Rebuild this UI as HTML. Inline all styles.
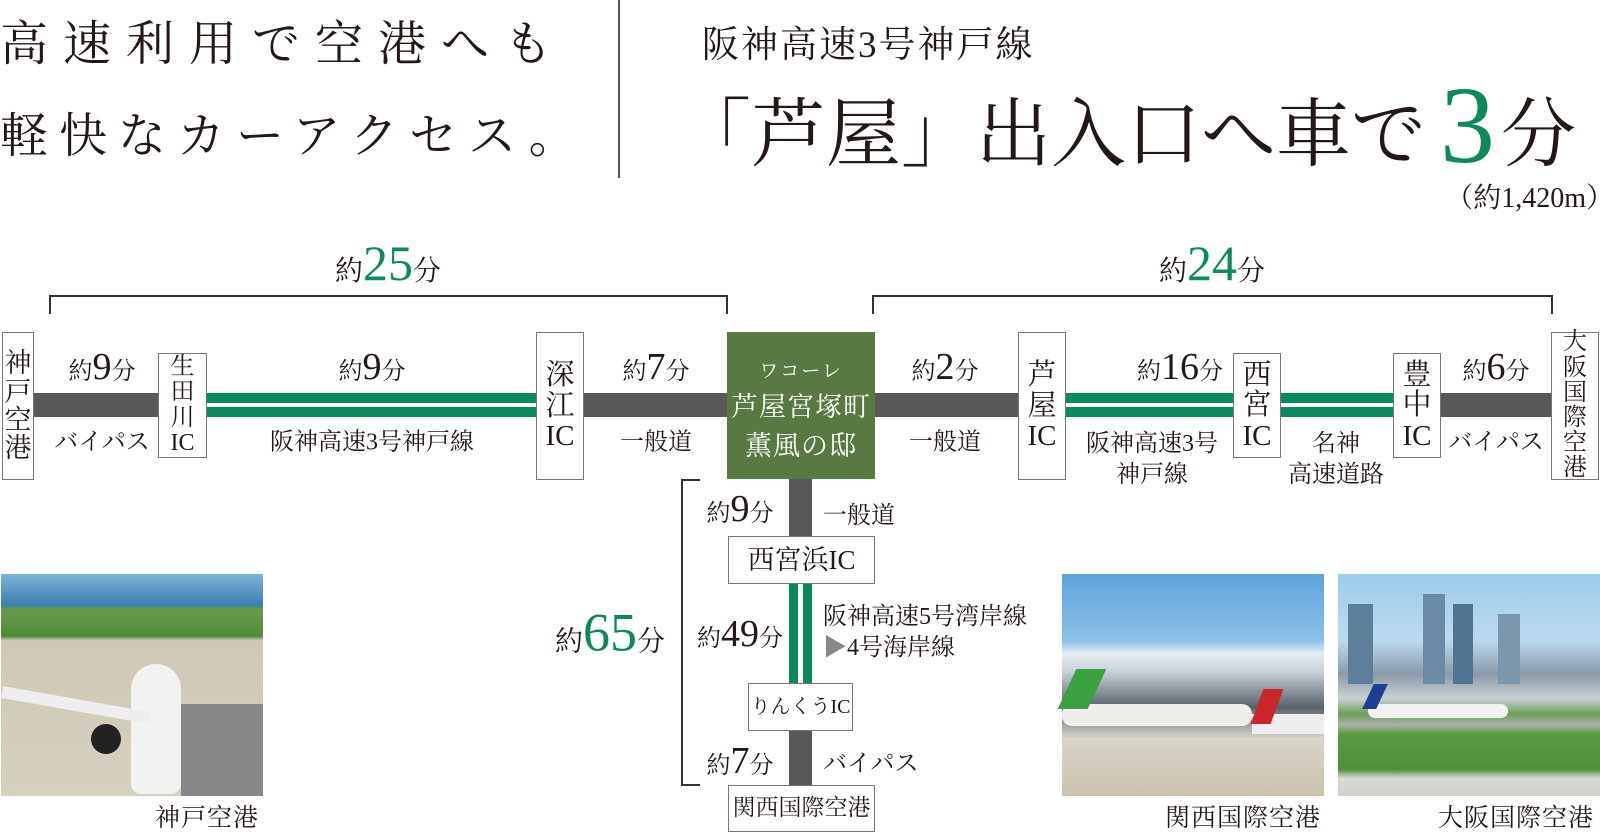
<!DOCTYPE html>
<html><head><meta charset="utf-8"><style>
*{margin:0;padding:0;box-sizing:border-box}
body{width:1600px;height:834px;background:#fff;position:relative;overflow:hidden;font-family:"Liberation Serif","Noto Serif CJK SC","Noto Sans CJK JP",serif;color:#231815}
.a{position:absolute;white-space:nowrap}
.bar{position:absolute;background:#595757}
.g{position:absolute;background:#0a8a5c}
.box{position:absolute;border:1.5px solid #777;background:#fff;display:flex;align-items:center;justify-content:center;text-align:center;font-size:27px;line-height:1.05;white-space:nowrap}
.lb{position:absolute;white-space:nowrap;transform:translate(-50%,-50%);font-size:24px;line-height:1.2;text-align:center}
.lb b{font-weight:normal;font-size:38px}
.gr{color:#0e8a5a;font-size:50px}
.ln{position:absolute;background:#333}
</style></head><body>
<div class="a" style="left:0;top:14px;font-size:48px;letter-spacing:15px;line-height:62px">高速利用で空港へも</div>
<div class="a" style="left:0;top:106px;font-size:48px;letter-spacing:11px;line-height:62px">軽快なカーアクセス。</div>
<div class="ln" style="left:618px;top:0;width:1.5px;height:178px;background:#555"></div>
<div class="a" style="left:702px;top:14px;font-size:37px;letter-spacing:2px">阪神高速3号神戸線</div>
<div class="a" style="left:676px;top:80px;font-size:75px;letter-spacing:0;line-height:90px">「芦屋」出入口へ車で<span style="color:#0e8a5a;font-size:110px;vertical-align:-2px;margin-left:14px;margin-right:6px">3</span>分</div>
<div class="a" style="right:-14px;top:176px;font-size:28px">（約1,420m）</div>

<!-- top brackets -->
<div class="ln" style="left:49px;top:295px;width:678px;height:1.5px"></div>
<div class="ln" style="left:49px;top:295px;width:1.5px;height:19px"></div>
<div class="ln" style="left:726px;top:295px;width:1.5px;height:19px"></div>
<div class="lb" style="left:388px;top:263px;font-size:28px">約<span class="gr">25</span>分</div>
<div class="ln" style="left:872px;top:295px;width:680px;height:1.5px"></div>
<div class="ln" style="left:872px;top:295px;width:1.5px;height:19px"></div>
<div class="ln" style="left:1551px;top:295px;width:1.5px;height:19px"></div>
<div class="lb" style="left:1212px;top:263px;font-size:28px">約<span class="gr">24</span>分</div>

<!-- main row bars -->
<div class="bar" style="left:30px;top:393px;width:130px;height:24px"></div>
<div class="g" style="left:205px;top:393px;width:332px;height:10px"></div>
<div class="g" style="left:205px;top:407px;width:332px;height:10px"></div>
<div class="bar" style="left:582px;top:393px;width:148px;height:24px"></div>
<div class="bar" style="left:873px;top:393px;width:148px;height:24px"></div>
<div class="g" style="left:1064px;top:393px;width:332px;height:10px"></div>
<div class="g" style="left:1064px;top:407px;width:332px;height:10px"></div>
<div class="bar" style="left:1440px;top:393px;width:113px;height:24px"></div>

<div class="box" style="left:2px;top:332px;width:32px;height:148px">神<br>戸<br>空<br>港</div>
<div class="box" style="left:158px;top:353px;width:49px;height:105px;font-size:24px">生<br>田<br>川<br>IC</div>
<div class="box" style="left:536px;top:332px;width:48px;height:148px;font-size:29px">深<br>江<br>IC</div>
<div class="box" style="left:1018px;top:332px;width:48px;height:148px;font-size:29px">芦<br>屋<br>IC</div>
<div class="box" style="left:1233px;top:353px;width:48px;height:105px;font-size:29px">西<br>宮<br>IC</div>
<div class="box" style="left:1393px;top:353px;width:48px;height:105px;font-size:29px">豊<br>中<br>IC</div>
<div class="box" style="left:1551px;top:332px;width:48px;height:148px;font-size:24px">大<br>阪<br>国<br>際<br>空<br>港</div>

<div class="a" style="left:727px;top:332px;width:148px;height:147px;background:#587a42;color:#fff;text-align:center">
<div style="font-size:19px;margin-top:24px;letter-spacing:2px">ワコーレ</div>
<div style="font-size:27px;margin-top:2px;letter-spacing:1px">芦屋宮塚町</div>
<div style="font-size:27px;margin-top:0px;letter-spacing:1px">薫風の邸</div></div>

<div class="lb" style="left:102px;top:368px">約<b>9</b>分</div>
<div class="lb" style="left:102px;top:443px">バイパス</div>
<div class="lb" style="left:372px;top:368px">約<b>9</b>分</div>
<div class="lb" style="left:372px;top:443px">阪神高速3号神戸線</div>
<div class="lb" style="left:656px;top:368px">約<b>7</b>分</div>
<div class="lb" style="left:656px;top:443px">一般道</div>
<div class="lb" style="left:945px;top:368px">約<b>2</b>分</div>
<div class="lb" style="left:945px;top:443px">一般道</div>
<div class="lb" style="left:1180px;top:368px">約<b>16</b>分</div>
<div class="lb" style="left:1152px;top:460px;line-height:31px">阪神高速3号<br>神戸線</div>
<div class="lb" style="left:1336px;top:460px;line-height:31px">名神<br>高速道路</div>
<div class="lb" style="left:1496px;top:368px">約<b>6</b>分</div>
<div class="lb" style="left:1496px;top:443px">バイパス</div>

<!-- vertical route -->
<div class="bar" style="left:789px;top:479px;width:23px;height:57px"></div>
<div class="box" style="left:728px;top:536px;width:147px;height:48px;font-size:27px">西宮浜IC</div>
<div class="g" style="left:789px;top:584px;width:9px;height:99px"></div>
<div class="g" style="left:803px;top:584px;width:9px;height:99px"></div>
<div class="box" style="left:748px;top:683px;width:105px;height:48px;font-size:20px">りんくうIC</div>
<div class="bar" style="left:789px;top:731px;width:23px;height:54px"></div>
<div class="box" style="left:728px;top:785px;width:147px;height:47px;font-size:23px">関西国際空港</div>

<div class="ln" style="left:681px;top:479px;width:1.5px;height:306px"></div>
<div class="ln" style="left:681px;top:479px;width:19px;height:1.5px"></div>
<div class="ln" style="left:681px;top:784px;width:19px;height:1.5px"></div>
<div class="lb" style="left:610px;top:633px;font-size:28px">約<span class="gr" style="font-size:54px">65</span>分</div>

<div class="lb" style="left:740px;top:510px">約<b>9</b>分</div>
<div class="a" style="left:823px;top:495px;font-size:24px">一般道</div>
<div class="lb" style="left:740px;top:635px">約<b>49</b>分</div>
<div class="a" style="left:823px;top:602px;font-size:24px;line-height:31px">阪神高速5号湾岸線<br><span style="color:#888">▶</span>4号海岸線</div>
<div class="lb" style="left:740px;top:762px">約<b>7</b>分</div>
<div class="a" style="left:823px;top:743px;font-size:24px">バイパス</div>

<!-- photos -->
<div class="a" style="left:1px;top:574px;width:262px;height:222px;background:linear-gradient(#7fb3d9 0,#3b7fae 14%,#6b9a4a 16%,#4e8c3a 28%,#cfc8b6 30%,#d6d0c0 100%)">
<div style="position:absolute;left:130px;top:90px;width:50px;height:130px;background:#f2f2f0;border-radius:25px 25px 10px 10px"></div>
<div style="position:absolute;left:0;top:125px;width:150px;height:12px;background:#eee;transform:rotate(10deg)"></div>
<div style="position:absolute;left:90px;top:150px;width:30px;height:30px;background:#222;border-radius:50%"></div>
<div style="position:absolute;left:180px;top:130px;width:82px;height:92px;background:#888"></div></div>
<div class="a" style="left:155px;top:798px;font-size:25px;letter-spacing:1px">神戸空港</div>

<div class="a" style="left:1062px;top:574px;width:262px;height:222px;background:linear-gradient(#5fa3dc 0,#8cc0e8 30%,#e6eef4 36%,#c8d0d8 44%,#59636b 60%,#d8d4c8 74%,#cbc3ae 100%)">
<div style="position:absolute;left:0;top:130px;width:190px;height:22px;background:#f0eeea;border-radius:10px"></div>
<div style="position:absolute;left:190px;top:140px;width:72px;height:20px;background:#eee"></div>
<div style="position:absolute;left:195px;top:115px;width:20px;height:35px;background:#c8262a;transform:skewX(-20deg)"></div>
<div style="position:absolute;left:5px;top:95px;width:30px;height:40px;background:#3ba040;transform:skewX(-25deg)"></div></div>
<div class="a" style="left:1165px;top:798px;font-size:25px;letter-spacing:1px">関西国際空港</div>

<div class="a" style="left:1338px;top:574px;width:262px;height:222px;background:linear-gradient(#9cccec 0,#bcdaee 30%,#8a9aa8 45%,#c9d1d5 56%,#6e9e5a 63%,#aab0a8 68%,#5d9b42 72%,#4f8e3c 88%,#d9d9d6 92%,#cfcfcc 100%)">
<div style="position:absolute;left:10px;top:30px;width:25px;height:80px;background:#5d7f9a"></div>
<div style="position:absolute;left:85px;top:20px;width:22px;height:90px;background:#6a8aa5"></div>
<div style="position:absolute;left:115px;top:30px;width:20px;height:80px;background:#4f7590"></div>
<div style="position:absolute;left:160px;top:40px;width:22px;height:70px;background:#7a97ad"></div>
<div style="position:absolute;left:30px;top:130px;width:140px;height:14px;background:#f2f2f2;border-radius:7px"></div>
<div style="position:absolute;left:30px;top:110px;width:14px;height:25px;background:#1e3f8f;transform:skewX(-25deg)"></div></div>
<div class="a" style="left:1438px;top:798px;font-size:25px;letter-spacing:1px">大阪国際空港</div>
</body></html>
